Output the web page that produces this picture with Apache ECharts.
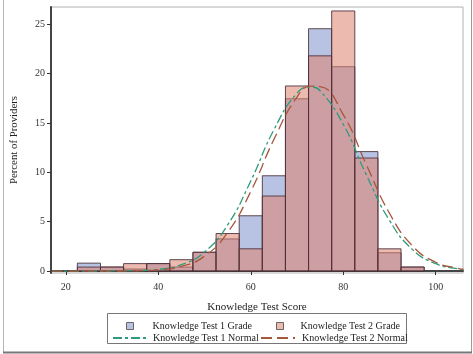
<!DOCTYPE html>
<html>
<head>
<meta charset="utf-8">
<script src="https://cdn.jsdelivr.net/npm/echarts@6/dist/echarts.min.js"></script>
<style>
	html, body { margin: 0; padding: 0; background: #fff; }
	#chart { width: 473px; height: 354px; }
</style>
</head>
<body>
<div id="chart"></div>
<script>
// bin centres (width 5)
const binCenters = [25, 30, 35, 40, 45, 50, 55, 60, 65, 70, 75, 80, 85, 90, 95]
const test1Pct = [0.8, 0.4, 0.2, 0.75, 0.4, 1.9, 3.25, 5.6, 9.65, 17.45, 24.55, 20.7, 12.1, 1.85, 0.4]
const test2Pct = [0.4, 0.4, 0.75, 0.75, 1.15, 1.9, 3.8, 2.25, 7.6, 18.75, 21.8, 26.35, 11.45, 2.25, 0.4]

// normal curves
const curveX = [17, 20, 25, 30, 35, 40, 45, 50, 55, 60, 65, 70, 73, 75, 80, 85, 90, 95, 100, 105, 106]
const normal1 = [0, 0, 0, 0.01, 0.04, 0.17, 0.64, 1.93, 4.67, 9.12, 14.3, 18.02, 18.65, 18.26, 14.87, 9.74, 5.13, 2.17, 0.74, 0.2, 0.15]
const normal2 = [0, 0, 0, 0, 0.02, 0.12, 0.47, 1.51, 3.9, 8.06, 13.32, 17.63, 18.73, 18.68, 15.85, 10.76, 5.85, 2.54, 0.89, 0.25, 0.19]

const xTicks = [20, 40, 60, 80, 100]
const yTicks = [0, 5, 10, 15, 20, 25]

const binWidth = 5
const font = 'Liberation Serif'

const blueFill = 'rgba(126, 146, 204, 0.55)'
const pinkFill = 'rgba(222, 130, 111, 0.55)'
const barEdge = 'rgba(70, 45, 55, 0.85)'
const greenLine = '#2f9a7c'
const brownLine = '#a8573c'

const histItem = (fill) => (params, api) => {
	const c = api.value(0)
	const p0 = api.coord([c - binWidth / 2, api.value(1)])
	const p1 = api.coord([c + binWidth / 2, 0])
	return {
		type: 'rect',
		shape: { x: p0[0], y: p0[1], width: p1[0] - p0[0], height: p1[1] - p0[1] },
		style: { fill: fill, stroke: barEdge, lineWidth: 1 }
	}
}

const pairs = (xs, ys) => xs.map((x, i) => [x, ys[i]])

const legendText = { fontFamily: font, fontSize: 10, color: '#222', lineHeight: 12 }
// hide the dot that line legends draw
const noDot = { color: 'rgba(0,0,0,0)', borderWidth: 0 }

const option = {
	animation: false,
	grid: {
		left: 51, top: 7, width: 412, height: 266,
		show: true, borderColor: '#b0b0b0', borderWidth: 1
	},
	xAxis: {
		type: 'value',
		min: 16.8,
		max: 105.9,
		name: 'Knowledge Test Score',
		nameLocation: 'middle',
		nameGap: 29,
		nameTextStyle: { fontFamily: font, fontSize: 11, color: '#222' },
		axisLine: { lineStyle: { color: '#444', width: 2 } },
		axisTick: { customValues: xTicks, length: 4, lineStyle: { color: '#333' } },
		axisLabel: { customValues: xTicks, fontFamily: font, fontSize: 10, color: '#333', margin: 9 },
		splitLine: { show: false }
	},
	yAxis: {
		type: 'value',
		min: -0.2,
		max: 26.75,
		name: 'Percent of Providers',
		nameLocation: 'middle',
		nameGap: 31,
		nameTextStyle: { fontFamily: font, fontSize: 10.8, color: '#222' },
		axisLine: { show: true, lineStyle: { color: '#444', width: 2 } },
		axisTick: { show: true, customValues: yTicks, length: 4, lineStyle: { color: '#333' } },
		axisLabel: { customValues: yTicks, fontFamily: font, fontSize: 10, color: '#333', margin: 6 },
		splitLine: { show: false }
	},
	legend: [
		{
			data: [{ name: 'Knowledge Test 1 Grade', icon: 'rect', itemStyle: { color: '#b8c3e3', borderColor: '#666', borderWidth: 1 } }],
			left: 126, top: 320, padding: 0, itemWidth: 7, itemHeight: 7,
			textStyle: { ...legendText, padding: [0, 0, 0, 14] }
		},
		{
			data: [{ name: 'Knowledge Test 2 Grade', icon: 'rect', itemStyle: { color: '#edbab0', borderColor: '#666', borderWidth: 1 } }],
			left: 276, top: 320, padding: 0, itemWidth: 7, itemHeight: 7,
			textStyle: { ...legendText, padding: [0, 0, 0, 12] }
		},
		{
			data: [{ name: 'Knowledge Test 1 Normal', itemStyle: noDot }],
			left: 112, top: 332, padding: 0, itemWidth: 35, itemHeight: 8,
			textStyle: legendText
		},
		{
			data: [{ name: 'Knowledge Test 2 Normal', itemStyle: noDot }],
			left: 260, top: 332, padding: 0, itemWidth: 34, itemHeight: 8,
			textStyle: { ...legendText, padding: [0, 0, 0, 2] }
		}
	],
	graphic: [
		{ type: 'rect', shape: { x: 107.5, y: 313.5, width: 299, height: 30 }, style: { fill: 'none', stroke: '#777', lineWidth: 1 }, silent: true },
		{ type: 'line', shape: { x1: 3.5, y1: 0, x2: 3.5, y2: 352 }, style: { stroke: '#b5b5b5', lineWidth: 1 }, silent: true },
		{ type: 'line', shape: { x1: 471.5, y1: 0, x2: 471.5, y2: 352 }, style: { stroke: '#9a9a9a', lineWidth: 1 }, silent: true },
		{ type: 'line', shape: { x1: 3, y1: 352.5, x2: 472, y2: 352.5 }, style: { stroke: '#777', lineWidth: 2 }, silent: true }
	],
	series: [
		{
			name: 'Knowledge Test 1 Grade',
			type: 'custom',
			renderItem: histItem(blueFill),
			itemStyle: { color: '#b8c3e3' },
			encode: { x: 0, y: 1 },
			data: pairs(binCenters, test1Pct),
			z: 2
		},
		{
			name: 'Knowledge Test 2 Grade',
			type: 'custom',
			renderItem: histItem(pinkFill),
			itemStyle: { color: '#edbab0' },
			encode: { x: 0, y: 1 },
			data: pairs(binCenters, test2Pct),
			z: 3
		},
		{
			name: 'Knowledge Test 1 Normal',
			type: 'line',
			smooth: true,
			symbol: 'none',
			lineStyle: { color: greenLine, width: 1.3, type: [9, 3, 3, 3] },
			itemStyle: { color: greenLine },
			data: pairs(curveX, normal1),
			z: 5
		},
		{
			name: 'Knowledge Test 2 Normal',
			type: 'line',
			smooth: true,
			symbol: 'none',
			lineStyle: { color: brownLine, width: 1.3, type: [11, 5] },
			itemStyle: { color: brownLine },
			data: pairs(curveX, normal2),
			z: 5
		}
	]
}

echarts.init(document.getElementById('chart')).setOption(option)
</script>
</body>
</html>
